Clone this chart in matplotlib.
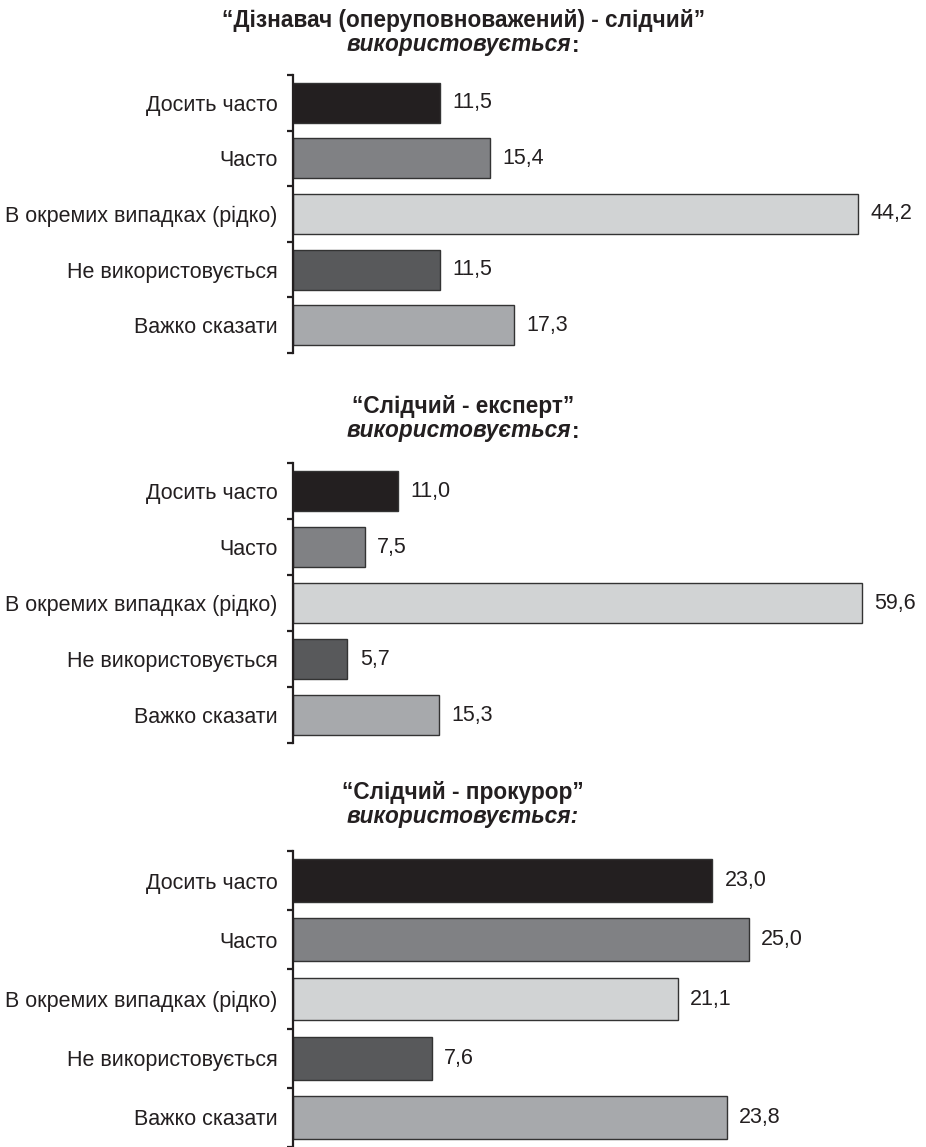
import matplotlib
matplotlib.use("Agg")
import matplotlib.pyplot as plt

plt.rcParams['font.family'] = ['Liberation Sans', 'DejaVu Sans']

categories = ["Досить часто", "Часто", "В окремих випадках (рідко)",
              "Не використовується", "Важко сказати"]
bar_colors = ["#231f20", "#808184", "#d1d3d4", "#58595b", "#a7a9ac"]

titles = ["“Дізнавач (оперуповноважений) - слідчий”",
          "“Слідчий - експерт”",
          "“Слідчий - прокурор”"]
subtitle = "використовується"

values_investigator = [11.5, 15.4, 44.2, 11.5, 17.3]
values_expert = [11.0, 7.5, 59.6, 5.7, 15.3]
values_prosecutor = [23.0, 25.0, 21.1, 7.6, 23.8]
panels = [values_investigator, values_expert, values_prosecutor]

W, H = 926, 1147
fig = plt.figure(figsize=(W / 100, H / 100), dpi=100)
ink = "#231f20"
label_fs = 15.5
title_fs = 16.3

# pixel layout: (axes top, axes bottom, x max, title line 1 y, title line 2 y)
layout = [
    (75, 353, 45.9, 20, 45),
    (463, 743, 61.5, 407, 431),
    (851, 1147, 32.2, 792, 816),
]
ax_left, ax_right = 293, 880

subtitle_texts = []
for i, (vals, (top, bottom, xmax, ty1, ty2)) in enumerate(zip(panels, layout)):
    ax = fig.add_axes([ax_left / W, 1 - bottom / H,
                       (ax_right - ax_left) / W, (bottom - top) / H])
    pos = list(range(len(categories)))
    ax.barh(pos, vals, height=0.72, color=bar_colors,
            edgecolor="#333333", linewidth=1.0)
    ax.set_xlim(0, xmax)
    ax.set_ylim(len(categories) - 0.5, -0.5)
    for p, v in zip(pos, vals):
        ax.annotate(f"{v:.1f}".replace(".", ","), xy=(v, p),
                    xytext=(9, 0), textcoords="offset points",
                    ha="left", va="center", fontsize=label_fs, color=ink)
    for s in ["top", "right", "bottom"]:
        ax.spines[s].set_visible(False)
    ax.spines["left"].set_linewidth(1.6)
    ax.spines["left"].set_color(ink)
    ax.set_xticks([])
    ax.set_yticks([p - 0.5 for p in pos] + [len(categories) - 0.5])
    ax.set_yticklabels([])
    ax.tick_params(axis="y", which="major", direction="out", length=4,
                   width=1.6, color=ink)
    ax.set_yticks(pos, minor=True)
    ax.set_yticklabels(categories, minor=True, fontsize=label_fs, color=ink)
    ax.tick_params(axis="y", which="minor", length=0, pad=11)

    fig.text(0.5, 1 - ty1 / H, titles[i], ha="center", va="center",
             fontsize=title_fs, fontweight="bold", color=ink)
    # italic word followed by an upright colon (fully italic in the last panel)
    word = subtitle if i < 2 else subtitle + ":"
    t = fig.text(0.5, 1 - ty2 / H, word, ha="center", va="center",
                 fontsize=title_fs, fontweight="bold", fontstyle="italic",
                 color=ink)
    subtitle_texts.append((t, i < 2))

fig.canvas.draw()
renderer = fig.canvas.get_renderer()
for t, add_colon in subtitle_texts:
    if not add_colon:
        continue
    colon = fig.text(0, 0, ":", fontsize=title_fs, fontweight="bold",
                     color=ink, va="center", ha="left")
    cw = colon.get_window_extent(renderer).width
    bb = t.get_window_extent(renderer)
    shift = cw / 2 / W
    x0, y0 = t.get_position()
    t.set_position((x0 - shift, y0))
    colon.set_position((0.5 + (bb.width / 2) / W - shift + 0.5 / W, y0))

fig.savefig("out.png", dpi=100, facecolor="white")
